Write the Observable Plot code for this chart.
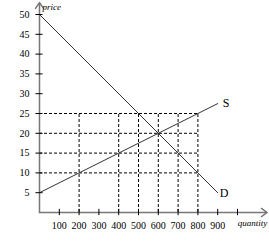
<!DOCTYPE html>
<html><head><meta charset="utf-8">
<script src="https://cdn.jsdelivr.net/npm/d3@7"></script>
<script src="https://cdn.jsdelivr.net/npm/@observablehq/plot@0.6"></script>
<style>body{margin:0;background:#fff}</style>
</head><body><div id="chart"></div>
<script>
const quantities = [0, 900];
const demandPrices = [50, 5];
const supplyPrices = [5, 27.5];
const hGuides = [10, 15, 20, 25];
const vGuides = [200, 400, 500, 600, 700, 800];
const guideMaxQ = 800;
const guideMaxP = 25;
const xTicks = [100, 200, 300, 400, 500, 600, 700, 800, 900, 1000];
const xTickLabels = [100, 200, 300, 400, 500, 600, 700, 800, 900];
const yTicks = [5, 10, 15, 20, 25, 30, 35, 40, 45, 50];
const xAxisEnd = 1150;
const yAxisEnd = 53;

const demand = quantities.map((q, i) => ({q, p: demandPrices[i]}));
const supply = quantities.map((q, i) => ({q, p: supplyPrices[i]}));

const chart = Plot.plot({
  width: 269, height: 250,
  marginLeft: 39, marginRight: 32, marginTop: 14, marginBottom: 38,
  x: {domain: [0, 1000], axis: null},
  y: {domain: [0, 50], axis: null},
  style: {fontFamily: "Liberation Serif", fontSize: "10px", background: "#fff", color: "#000"},
  marks: [
    Plot.ruleY(hGuides, {y: d => d, x1: 0, x2: guideMaxQ, stroke: "#000", strokeDasharray: "3,2", strokeWidth: 1}),
    Plot.ruleX(vGuides, {x: d => d, y1: 0, y2: guideMaxP, stroke: "#000", strokeDasharray: "3,2", strokeWidth: 1}),
    Plot.line(demand, {x: "q", y: "p", stroke: "#333", strokeWidth: 1}),
    Plot.line(supply, {x: "q", y: "p", stroke: "#333", strokeWidth: 1}),
    Plot.arrow([{x1: 0, y1: 0, x2: xAxisEnd, y2: 0}], {x1: "x1", y1: "y1", x2: "x2", y2: "y2", stroke: "#777", strokeWidth: 1.5, headLength: 7, headAngle: 70}),
    Plot.arrow([{x1: 0, y1: 0, x2: 0, y2: yAxisEnd}], {x1: "x1", y1: "y1", x2: "x2", y2: "y2", stroke: "#777", strokeWidth: 1.5, headLength: 7, headAngle: 70}),
    Plot.ruleX(xTicks, {x: d => d, y1: -0.8, y2: 0.8, stroke: "#000", strokeWidth: 1}),
    Plot.ruleY(yTicks, {y: d => d, x1: -18, x2: 18, stroke: "#000", strokeWidth: 1}),
    Plot.text(xTickLabels, {x: d => d, y: 0, dy: 13, text: d => String(d), fill: "#000"}),
    Plot.text(yTicks, {x: 0, y: d => d, dx: -10, textAnchor: "end", text: d => String(d), fill: "#000"}),
    Plot.text(["price"], {x: 0, y: yAxisEnd, dx: 3, dy: 4, textAnchor: "start", fontStyle: "italic", fontSize: 9, fill: "#000"}),
    Plot.text(["quantity"], {x: xAxisEnd, y: 0, dy: 11, textAnchor: "end", fontStyle: "italic", fontSize: 9, fill: "#000"}),
    Plot.text(["S"], {x: quantities[1], y: supplyPrices[1], dx: 5, dy: 0, textAnchor: "start", fontSize: 12, fill: "#000"}),
    Plot.text(["D"], {x: quantities[1], y: demandPrices[1], dx: 2, dy: 0, textAnchor: "start", fontSize: 12, fill: "#000"})
  ]
});
document.getElementById("chart").appendChild(chart);
</script>
</body></html>
